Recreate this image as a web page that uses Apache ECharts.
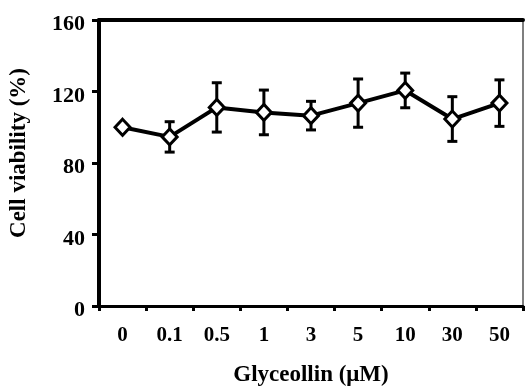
<!DOCTYPE html>
<html>
<head>
<meta charset="utf-8">
<script src="https://cdn.jsdelivr.net/npm/echarts@6/dist/echarts.min.js"></script>
<style>html,body{margin:0;padding:0;background:#fff}#c{width:525px;height:387px}</style>
</head>
<body>
<div id="c"></div>
<script>
var categories = ['0', '0.1', '0.5', '1', '3', '5', '10', '30', '50'];
var means = [100, 94.6, 111.1, 108.3, 106.5, 113.5, 120.6, 104.6, 113.5];
var errors = [0, 8.5, 13.8, 12.5, 8.0, 13.5, 9.7, 12.5, 13.0];
var yTicks = [0, 40, 80, 120, 160];

var font = 'Liberation Serif';
var chart = echarts.init(document.getElementById('c'));
var errData = means.map(function (m, i) { return [i, m - errors[i], m + errors[i]]; });

chart.setOption({
  animation: false,
  grid: { left: 99, right: 2, top: 20, bottom: 81, outerBoundsMode: 'none', containLabel: false },
  xAxis: [{
    type: 'category',
    data: categories,
    boundaryGap: true,
    name: 'Glyceollin (\u03bcM)',
    nameLocation: 'middle',
    nameGap: 58,
    nameTextStyle: { fontFamily: font, fontWeight: 'bold', fontSize: 23, color: '#000' },
    axisLine: { onZero: false, lineStyle: { color: '#000', width: 3 } },
    axisTick: { show: true, length: 5, lineStyle: { color: '#000', width: 3 } },
    axisLabel: { fontFamily: font, fontWeight: 'bold', fontSize: 21, color: '#000', margin: 19 },
    splitLine: { show: false }
  }, {
    type: 'category',
    data: categories,
    position: 'top',
    axisLine: { show: true, onZero: false, lineStyle: { color: '#000', width: 4 } },
    axisTick: { show: false },
    axisLabel: { show: false }
  }],
  yAxis: [{
    type: 'value',
    min: 0, max: 160, interval: 40,
    name: 'Cell viability (%)',
    nameLocation: 'middle',
    nameGap: 68,
    nameRotate: 90,
    nameTextStyle: { fontFamily: font, fontWeight: 'bold', fontSize: 23, color: '#000', padding: [0, 0, 0, 20] },
    axisLine: { show: true, onZero: false, lineStyle: { color: '#000', width: 4 } },
    axisTick: { show: true, length: 7, lineStyle: { color: '#000', width: 3 } },
    axisLabel: { color: '#000', margin: 14,
      formatter: function (v) { return yTicks.indexOf(v) >= 0 ? '{a|' + v + '}' : ''; },
      rich: { a: { fontFamily: font, fontWeight: 'bold', fontSize: 22, color: '#000', padding: [9, 0, 0, 0] } } },
    splitLine: { show: false }
  }, {
    type: 'value',
    min: 0, max: 160, interval: 40,
    position: 'right',
    axisLine: { show: true, onZero: false, lineStyle: { color: '#555', width: 1.5 } },
    axisTick: { show: false },
    axisLabel: { show: false },
    splitLine: { show: false }
  }],
  series: [{
    type: 'custom',
    data: errData,
    z: 1,
    renderItem: function (params, api) {
      var x = api.value(0);
      var lo = api.coord([x, api.value(1)]);
      var hi = api.coord([x, api.value(2)]);
      var w = 5;
      var st = { stroke: '#000', lineWidth: 3 };
      return {
        type: 'group',
        children: [
          { type: 'line', shape: { x1: hi[0], y1: hi[1], x2: lo[0], y2: lo[1] }, style: st },
          { type: 'line', shape: { x1: hi[0] - w, y1: hi[1], x2: hi[0] + w, y2: hi[1] }, style: st },
          { type: 'line', shape: { x1: lo[0] - w, y1: lo[1], x2: lo[0] + w, y2: lo[1] }, style: st }
        ]
      };
    }
  }, {
    type: 'line',
    data: means,
    z: 3,
    symbol: 'diamond',
    symbolSize: [15, 16],
    lineStyle: { color: '#000', width: 4 },
    itemStyle: { color: '#fff', borderColor: '#000', borderWidth: 3 }
  }]
});
</script>
</body>
</html>
